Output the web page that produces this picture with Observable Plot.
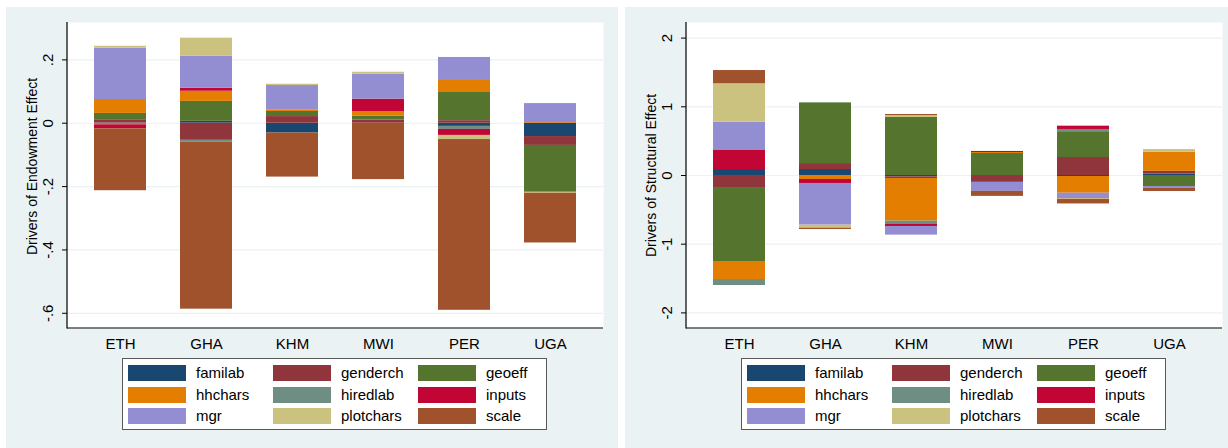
<!DOCTYPE html>
<html>
<head>
<meta charset="utf-8">
<script src="https://cdn.jsdelivr.net/npm/d3@7"></script>
<script src="https://cdn.jsdelivr.net/npm/@observablehq/plot@0.6"></script>
<style>
  html, body { margin: 0; padding: 0; background: #ffffff; width: 1228px; height: 448px; overflow: hidden;
    font-family: "Liberation Sans", Arial, "DejaVu Sans", sans-serif; }
  .panel { position: absolute; top: 7px; width: 612px; height: 441px; background: #eaf2f3; overflow: hidden; }
  .panel svg { position: absolute; left: 0; top: 0; }
  .legend { position: absolute; left: 116px; top: 351px; width: 425px; height: 72px; box-sizing: border-box;
    background: #ffffff; border: 1px solid #5a5a5a; }
  .item { position: absolute; height: 16px; width: 140px; display: flex; align-items: center; }
  .sw { width: 58px; height: 16px; flex: 0 0 58px; }
  .lab { margin-left: 10px; font-size: 15px; line-height: 16px; color: #000; white-space: nowrap; flex: 0 0 auto; }
</style>
</head>
<body>
<div class="panel" id="p1" style="left:6px"></div>
<div class="panel" id="p2" style="left:625px"></div>
<script>
// ---- data ----
const countries = ["ETH", "GHA", "KHM", "MWI", "PER", "UGA"];
const vars = ["familab", "genderch", "geoeff", "hhchars", "hiredlab", "inputs", "mgr", "plotchars", "scale"];
const colors = ["#1a476f", "#90353b", "#55752f", "#e37e00", "#6e8e84", "#c10534", "#938dd2", "#cac27e", "#a0522d"];

// Endowment effect (left panel), one array per driver, ordered as countries
const endFamilab   = [0.000,  0.006, -0.031,  0.000, -0.010, -0.042];
const endGenderch  = [0.011, -0.054,  0.021,  0.010,  0.008, -0.028];
const endGeoeff    = [0.020,  0.063,  0.016,  0.012,  0.089, -0.148];
const endHhchars   = [0.044,  0.032,  0.004,  0.014,  0.038,  0.002];
const endHiredlab  = [-0.005, -0.006, 0.000,  0.000, -0.0095, 0.000];
const endInputs    = [-0.013, 0.0095, 0.000,  0.040, -0.019,  0.002];
const endMgr       = [0.162,  0.101,  0.078,  0.079,  0.0726, 0.058];
const endPlotchars = [0.006,  0.057,  0.004,  0.006, -0.013, -0.003];
const endScale     = [-0.195, -0.527, -0.139, -0.178, -0.539, -0.157];

// Structural effect (right panel)
const strFamilab   = [0.087,  0.087, -0.020,  0.000, -0.015,  0.020];
const strGenderch  = [-0.175, 0.087, -0.024, -0.100,  0.262,  0.040];
const strGeoeff    = [-1.087, 0.883,  0.844,  0.320,  0.364, -0.160];
const strHhchars   = [-0.252, -0.058, -0.620, 0.015, -0.243,  0.277];
const strHiredlab  = [-0.087, 0.000, -0.049,  0.000,  0.044,  0.000];
const strInputs    = [0.277, -0.058, -0.029,  0.015,  0.048,  0.000];
const strMgr       = [0.412, -0.607, -0.126, -0.131, -0.078, -0.029];
const strPlotchars = [0.559, -0.044,  0.029,  0.000, -0.010,  0.040];
const strScale     = [0.193, -0.019,  0.015, -0.073, -0.068, -0.044];

const endTicks = [-0.6, -0.4, -0.2, 0, 0.2];
const endTickLabels = ["-.6", "-.4", "-.2", "0", ".2"];
const strTicks = [-2, -1, 0, 1, 2];
const strTickLabels = ["-2", "-1", "0", "1", "2"];

const endTitle = "Drivers of Endowment Effect";
const strTitle = "Drivers of Structural Effect";

// ---- drawing ----
const FONT = '"Liberation Sans", Arial, "DejaVu Sans", sans-serif';

function makePanel(el, series, yDomain, ticks, tickLabels, title, titleDy) {
  const data = [];
  vars.forEach((v, i) => countries.forEach((c, j) => data.push({country: c, driver: v, value: series[i][j]})));
  const plot = Plot.plot({
    width: 612, height: 350,
    marginLeft: 61, marginRight: 15, marginTop: 15, marginBottom: 29,
    style: {fontFamily: FONT, fontSize: "14.5px", color: "#000", background: "transparent", overflow: "visible"},
    x: {domain: countries, paddingInner: 0.4, paddingOuter: 0.3, label: null},
    y: {domain: yDomain, label: null},
    color: {domain: vars, range: colors},
    marks: [
      Plot.frame({fill: "white", stroke: "none"}),
      Plot.gridY(ticks, {stroke: "#eaf2f3", strokeOpacity: 1, strokeWidth: 1.2}),
      Plot.barY(data, {x: "country", y: "value", fill: "driver"}),
      Plot.axisY(ticks, {tickSize: 5, tickFormat: () => "", label: null, stroke: "#000"}),
      Plot.text(ticks, {y: d => d, text: (d, i) => tickLabels[i], frameAnchor: "left", textAnchor: "middle",
        lineAnchor: "middle", dx: -19, rotate: -90, fontSize: 15, fill: "#000"}),
      Plot.text([title], {text: d => d, frameAnchor: "left", textAnchor: "middle", lineAnchor: "middle",
        dx: -35, dy: titleDy, rotate: -90, fontSize: 14, fill: "#000"}),
      Plot.axisX({tickSize: 0, tickPadding: 10, label: null, fontSize: 15, fill: "#000"})
    ]
  });
  // axis lines on the left and bottom edges of the plot region
  const xr = plot.scale("x").range, yr = plot.scale("y").range;
  const svg = d3.select(plot);
  const yb = Math.max(...yr), yt = Math.min(...yr);
  svg.append("line").attr("x1", xr[0]).attr("x2", xr[0]).attr("y1", yt).attr("y2", yb + 0.5)
    .attr("stroke", "#000").attr("stroke-width", 1.2);
  svg.append("line").attr("x1", xr[0]).attr("x2", xr[1]).attr("y1", yb).attr("y2", yb)
    .attr("stroke", "#000").attr("stroke-width", 1.2);
  el.appendChild(plot);

  const lg = document.createElement("div");
  lg.className = "legend";
  vars.forEach((v, i) => {
    const it = document.createElement("div");
    it.className = "item";
    it.style.left = (5 + (i % 3) * 145) + "px";
    it.style.top = (6 + Math.floor(i / 3) * 21.5) + "px";
    const sw = document.createElement("div");
    sw.className = "sw"; sw.style.background = colors[i];
    const lab = document.createElement("span");
    lab.className = "lab"; lab.textContent = v;
    it.appendChild(sw); it.appendChild(lab);
    lg.appendChild(it);
  });
  el.appendChild(lg);
}

makePanel(document.getElementById("p1"),
  [endFamilab, endGenderch, endGeoeff, endHhchars, endHiredlab, endInputs, endMgr, endPlotchars, endScale],
  [-0.648, 0.318], endTicks, endTickLabels, endTitle, -9);
makePanel(document.getElementById("p2"),
  [strFamilab, strGenderch, strGeoeff, strHhchars, strHiredlab, strInputs, strMgr, strPlotchars, strScale],
  [-2.227, 2.227], strTicks, strTickLabels, strTitle, 0);
</script>
</body>
</html>
